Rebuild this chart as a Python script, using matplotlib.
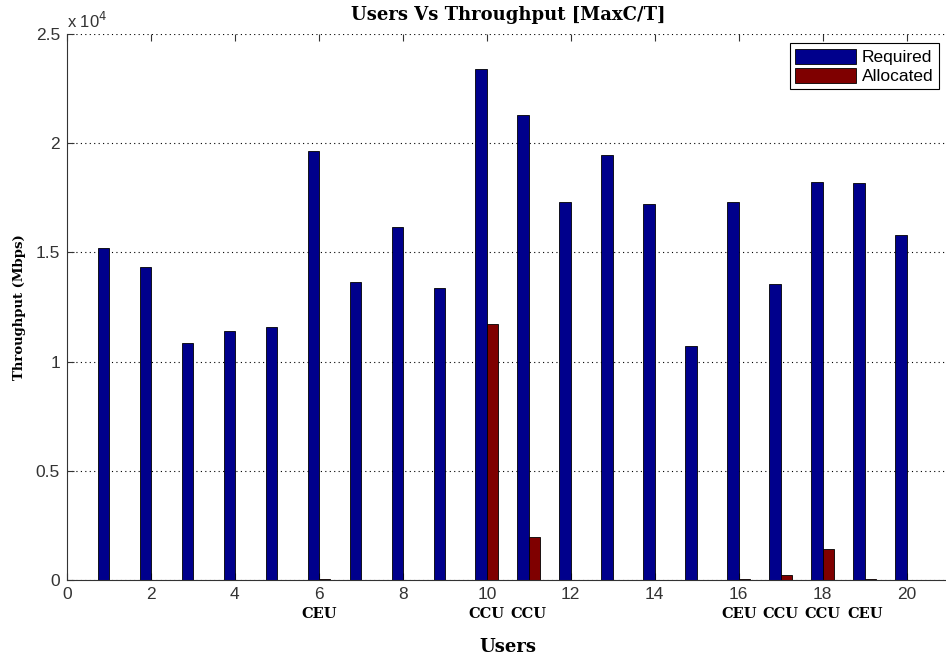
import numpy as np
import matplotlib
matplotlib.use('Agg')
import matplotlib.pyplot as plt
import matplotlib.transforms as mtransforms
from matplotlib.ticker import FuncFormatter

# 数据（Mbps）
users = np.arange(1, 21)
required = [15200, 14330, 10850, 11400, 11580, 19640, 13640, 16160, 13370, 23400,
            21290, 17310, 19460, 17220, 10710, 17310, 13550, 18220, 18180, 15800]
allocated = [0, 0, 0, 0, 0, 30, 0, 0, 0, 11720,
             1970, 0, 0, 0, 0, 30, 230, 1420, 30, 0]
user_types = {6: 'CEU', 10: 'CCU', 11: 'CCU', 16: 'CEU', 17: 'CCU', 18: 'CCU', 19: 'CEU'}

SERIF = 'DejaVu Serif'
SANS = 'Liberation Sans'

fig = plt.figure(figsize=(9.46, 6.58), dpi=100)
ax = fig.add_axes([0.0708, 0.1185, 0.932, 0.83])

w = 0.27
req = np.array(required) / 1e4
alc = np.array(allocated) / 1e4
ax.bar(users - w / 2, req, w, color='#00008C', edgecolor='black', linewidth=0.6, label='Required')
ax.bar(users + w / 2, alc, w, color='#7F0000', edgecolor='black', linewidth=0.6, label='Allocated')

ax.set_xlim(0, 21)
ax.set_ylim(0, 2.5)
ax.set_xticks(np.arange(0, 21, 2))
ax.set_yticks(np.arange(0, 2.51, 0.5))
ax.yaxis.set_major_formatter(FuncFormatter(lambda v, p: '%g' % v))
ax.yaxis.grid(True, linestyle=(0, (1, 3)), color='black', linewidth=0.8)
ax.set_axisbelow(True)
ax.tick_params(direction='in', length=5, top=True, labelsize=12.5, pad=5, colors='#333333')
for lab in ax.get_xticklabels() + ax.get_yticklabels():
    lab.set_fontfamily(SANS)
    lab.set_color('#333333')
ax.spines['top'].set_visible(False)
ax.spines['left'].set_color('#333333')
ax.spines['bottom'].set_color('#333333')

ax.text(0.0, 1.005, 'x 10$^4$', transform=ax.transAxes, fontsize=12,
        family=SANS, color='#333333', ha='left', va='bottom')

trans = mtransforms.blended_transform_factory(ax.transData, ax.transAxes)
for u, t in user_types.items():
    ax.text(u, -0.05, t, transform=trans, ha='center', va='top', fontsize=10.5,
            family=SERIF, fontweight='bold')

ax.set_title('Users Vs Throughput [MaxC/T]', fontsize=13, family=SERIF,
             fontweight='bold', pad=10)
ax.set_xlabel('Users', fontsize=13, family=SERIF, fontweight='bold', labelpad=26)
ax.set_ylabel('Throughput (Mbps)', fontsize=9.5, family=SERIF, fontweight='bold', labelpad=7)

leg = ax.legend(loc='upper right', bbox_to_anchor=(0.9985, 0.9985), fancybox=False,
                edgecolor='black', framealpha=1, handlelength=3.5, handleheight=0.95,
                borderpad=0.3, labelspacing=0.15, handletextpad=0.35,
                prop={'family': SANS, 'size': 12.5})
leg.get_frame().set_linewidth(0.8)

fig.savefig('out.png', dpi=100)
